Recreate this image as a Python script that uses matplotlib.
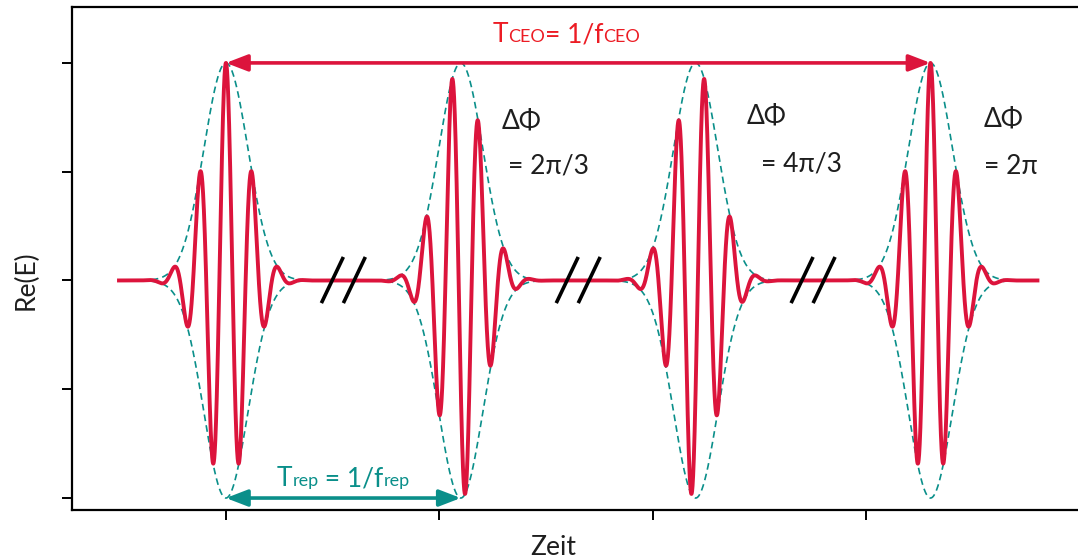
import numpy as np
import matplotlib
matplotlib.use("Agg")
import matplotlib.pyplot as plt
from matplotlib.transforms import offset_copy

# Pulse train parameters
pulse_centers = [1.0, 2.1, 3.2, 4.3]
phase_offsets = [0.0, 2 * np.pi / 3, 4 * np.pi / 3, 2 * np.pi]
phase_labels = [None, "= 2\u03c0/3", "= 4\u03c0/3", "= 2\u03c0"]
envelope_sigma = 0.103
carrier_period = 0.123
t_start, t_end = 0.49, 4.81
x_ticks = [1, 2, 3, 4]
y_ticks = [-1.0, -0.5, 0.0, 0.5, 1.0]

RED = "#dc143c"
RED_TEXT = "#ec1c24"
TEAL = "#0a8f8a"
INK = "#1e1e1e"
FONT = ["Lato", "DejaVu Sans"]

plt.rcParams["font.family"] = FONT

fig = plt.figure(figsize=(10.78, 5.60), dpi=100)
ax = fig.add_axes([72 / 1078, 50 / 560, (1090 - 72) / 1078, 503 / 560])
ax.set_xlim(0.279, 5.047)
ax.set_ylim(-1.055, 1.257)

t = np.linspace(t_start, t_end, 8000)
field = np.zeros_like(t)
for c, phi in zip(pulse_centers, phase_offsets):
    env = np.exp(-(t - c) ** 2 / (2 * envelope_sigma ** 2))
    field += env * np.cos(2 * np.pi * (t - c) / carrier_period + phi)
    # dashed envelope around each pulse
    mask = np.abs(t - c) < 0.5
    for sgn in (1, -1):
        ax.plot(t[mask], sgn * env[mask], color=TEAL, lw=1.2,
                dashes=(4, 2.5), zorder=2)

ax.plot(t, field, color=RED, lw=2.8, zorder=3, solid_capstyle="butt")

# "//" break marks between the pulses
for a, b in zip(pulse_centers[:-1], pulse_centers[1:]):
    mid = (a + b) / 2
    for off in (-0.0515, 0.0515):
        ax.plot([mid + off - 0.0515, mid + off + 0.0515], [-0.104, 0.108],
                color="black", lw=2.6, zorder=4, solid_capstyle="butt")

# double arrows: carrier-envelope period and repetition period
ax.annotate("", xy=(pulse_centers[-1], 1.0), xytext=(pulse_centers[0], 1.0),
            arrowprops=dict(arrowstyle="<|-|>,head_length=1.3,head_width=0.5",
                            mutation_scale=10, color=RED, lw=2.6,
                            shrinkA=0, shrinkB=0), zorder=5)
ax.annotate("", xy=(pulse_centers[1], -1.0), xytext=(pulse_centers[0], -1.0),
            arrowprops=dict(arrowstyle="<|-|>,head_length=1.3,head_width=0.5",
                            mutation_scale=10, color=TEAL, lw=2.6,
                            shrinkA=0, shrinkB=0), zorder=5)


def draw_runs(x, y, runs, color):
    """Draw text pieces of different sizes on one baseline, centred at x."""
    renderer = fig.canvas.get_renderer()
    pieces, widths = [], []
    for s, size in runs:
        txt = ax.text(x, y, s, fontsize=size, color=color, ha="left",
                      va="baseline", zorder=6)
        widths.append(txt.get_window_extent(renderer).width)
        pieces.append(txt)
    off = -sum(widths) / 2
    for txt, w in zip(pieces, widths):
        txt.set_transform(offset_copy(ax.transData, fig=fig, x=off, y=0,
                                      units="dots"))
        off += w


big, small = 19, 13
draw_runs((pulse_centers[0] + pulse_centers[-1]) / 2 - 0.057, 1.095,
          [("T", big), ("CEO", small), ("= 1/f", big), ("CEO", small)],
          RED_TEXT)
draw_runs((pulse_centers[0] + pulse_centers[1]) / 2, -0.945,
          [("T", big), ("rep", small), (" = 1/f", big), ("rep", small)],
          TEAL)

# phase slip labels
dphi_pos = [None, (2.29, 0.70, 2.32, 0.49), (3.44, 0.72, 3.505, 0.50),
            (4.55, 0.71, 4.55, 0.49)]
for lab, pos in zip(phase_labels, dphi_pos):
    if lab is None:
        continue
    x1, y1, x2, y2 = pos
    ax.text(x1, y1, "\u0394\u03a6", fontsize=19, color=INK,
            ha="left", va="baseline")
    ax.text(x2, y2, lab, fontsize=19, color=INK, ha="left",
            va="baseline")

ax.set_xticks(x_ticks)
ax.set_yticks(y_ticks)
ax.set_xticklabels([])
ax.set_yticklabels([])
ax.tick_params(direction="out", length=7, width=1.4, color="black")
for sp in ax.spines.values():
    sp.set_linewidth(1.6)

ax.set_xlabel("Zeit", fontsize=19, color=INK)
ax.set_ylabel("Re(E)", fontsize=19, color=INK)
ax.xaxis.set_label_coords((553 - 72) / 1018, -0.05)
ax.yaxis.set_label_coords(-0.033, 0.457)

fig.savefig("out.png", dpi=100)
